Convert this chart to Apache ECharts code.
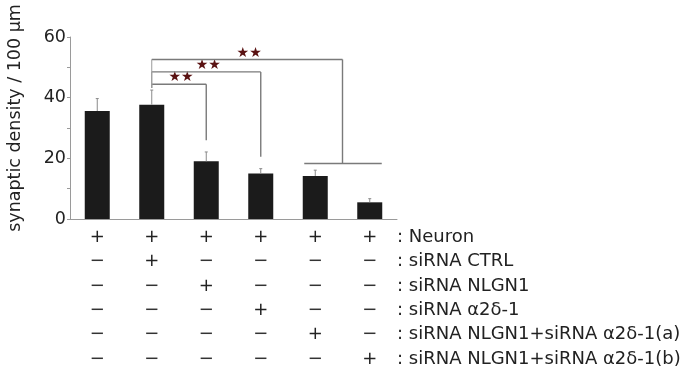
<!DOCTYPE html>
<html><head><meta charset="utf-8">
<script src="https://cdn.jsdelivr.net/npm/echarts@6/dist/echarts.min.js"></script>
<style>html,body{margin:0;padding:0;background:#fff}#c{width:693px;height:380px}</style>
</head><body><div id="c"></div>
<script>
// ---- data ----
const categories = ['G1', 'G2', 'G3', 'G4', 'G5', 'G6'];
const densityMean = [35.6, 37.7, 19.0, 15.0, 14.2, 5.5];
const densityErr = [4.1, 4.8, 3.1, 1.6, 1.9, 1.2];
const yTickValues = [0, 20, 40, 60];
const yTitle = 'synaptic density / 100 μm';
const conditionLabels = [': Neuron', ': siRNA CTRL', ': siRNA NLGN1', ': siRNA α2δ-1',
  ': siRNA NLGN1+siRNA α2δ-1(a)', ': siRNA NLGN1+siRNA α2δ-1(b)'];
const conditionRows = [
  ['+', '+', '+', '+', '+', '+'],
  ['−', '+', '−', '−', '−', '−'],
  ['−', '−', '+', '−', '−', '−'],
  ['−', '−', '−', '+', '−', '−'],
  ['−', '−', '−', '−', '+', '−'],
  ['−', '−', '−', '−', '−', '+']
];
const bracketFrom = [1, 1, 1];
const bracketTo = [2, 3, 4.5];
const bracketTop = [44.4, 48.5, 52.6];
const bracketDrop = [26.0, 20.5, 18.3];
const bracketLabel = ['**', '**', '**'];
const groupFrom = [4];
const groupTo = [5];
const groupLevel = [18.3];

// ---- chart ----
const FONT = 'DejaVu Sans';
const chart = echarts.init(document.getElementById('c'), null, {renderer: 'canvas'});

function xOf(api, v) {
  const lo = Math.floor(v), hi = Math.ceil(v);
  const a = api.coord([lo, 0])[0];
  if (hi === lo) return a;
  const b = api.coord([hi, 0])[0];
  return a + (b - a) * (v - lo);
}

const lineStyle = {stroke: '#7a7a7a', lineWidth: 1.4};

const tableData = [];
conditionRows.forEach((row, r) => row.forEach((s, c) => tableData.push([c, r, s])));

const option = {
  animation: false,
  backgroundColor: '#fff',
  grid: [
    {left: 70, right: 296, top: 37, bottom: 161, containLabel: false},
    {left: 70, right: 296, top: 225, bottom: 9, containLabel: false}
  ],
  xAxis: [
    {type: 'category', gridIndex: 0, data: categories,
      axisLine: {show: true, lineStyle: {color: '#9a9a9a', width: 1}},
      axisTick: {show: false}, axisLabel: {show: false}},
    {type: 'category', gridIndex: 1, data: categories, show: false}
  ],
  yAxis: [
    {type: 'value', gridIndex: 0, min: 0, max: 60, interval: 20,
      name: yTitle, nameLocation: 'middle', nameGap: 46,
      nameTextStyle: {fontFamily: FONT, fontSize: 17.5, color: '#222', padding: [0, 0, 0, 20]},
      axisLine: {show: true, lineStyle: {color: '#9a9a9a', width: 1}},
      axisTick: {show: true, length: 3, lineStyle: {color: '#9a9a9a'}},
      minorTick: {show: true, splitNumber: 2, length: 3, lineStyle: {color: '#9a9a9a'}},
      splitLine: {show: false},
      axisLabel: {fontFamily: FONT, fontSize: 17.5, color: '#222', margin: 4,
        formatter: v => (yTickValues.indexOf(v) >= 0 ? String(v) : '')}},
    {type: 'category', gridIndex: 1, data: conditionLabels, inverse: true, position: 'right',
      axisLine: {show: false}, axisTick: {show: false},
      axisLabel: {fontFamily: FONT, fontSize: 18, color: '#222', margin: 0, align: 'left'}}
  ],
  series: [
    {type: 'bar', xAxisIndex: 0, yAxisIndex: 0, data: densityMean, barWidth: 25,
      itemStyle: {color: '#1b1b1b'}, z: 2},
    {type: 'custom', xAxisIndex: 0, yAxisIndex: 0, z: 3,
      data: densityMean.map((m, i) => [i, m, m + densityErr[i]]),
      renderItem: (params, api) => {
        const p0 = api.coord([api.value(0), api.value(1)]);
        const p1 = api.coord([api.value(0), api.value(2)]);
        return {type: 'group', children: [
          {type: 'line', shape: {x1: p0[0], y1: p0[1], x2: p1[0], y2: p1[1]}, style: {stroke: '#8a8a8a', lineWidth: 1}},
          {type: 'line', shape: {x1: p1[0] - 1.5, y1: p1[1], x2: p1[0] + 1.5, y2: p1[1]}, style: {stroke: '#8a8a8a', lineWidth: 1}}
        ]};
      }},
    {type: 'custom', xAxisIndex: 0, yAxisIndex: 0, z: 4,
      data: bracketFrom.map((f, i) => [f, bracketTo[i], bracketTop[i], bracketDrop[i], i]),
      renderItem: (params, api) => {
        const i = api.value(4);
        const x1 = xOf(api, api.value(0));
        const x2 = xOf(api, api.value(1));
        const yT = api.coord([0, api.value(2)])[1];
        const yD = api.coord([0, api.value(3)])[1];
        const yL = api.coord([0, bracketTop[0] - 1.2])[1];
        return {type: 'group', children: [
          {type: 'line', shape: {x1: x1, y1: yT, x2: x2, y2: yT}, style: lineStyle},
          {type: 'line', shape: {x1: x2, y1: yT, x2: x2, y2: yD}, style: lineStyle},
          {type: 'line', shape: {x1: x1, y1: yT, x2: x1, y2: yL}, style: {stroke: '#9a9a9a', lineWidth: 1}},
          {type: 'text', x: (x1 + x2) / 2 + 2, y: yT + 0.5,
            style: {text: bracketLabel[i].replace(/\*/g, '★'), fill: '#5a1212', font: 'bold 14px ' + FONT,
              align: 'center', verticalAlign: 'bottom'}}
        ]};
      }},
    {type: 'custom', xAxisIndex: 0, yAxisIndex: 0, z: 4,
      data: groupFrom.map((f, i) => [f, groupTo[i], groupLevel[i]]),
      renderItem: (params, api) => {
        const x1 = api.coord([api.value(0), 0])[0] - 11;
        const x2 = api.coord([api.value(1), 0])[0] + 12;
        const y = api.coord([0, api.value(2)])[1];
        return {type: 'line', shape: {x1: x1, y1: y, x2: x2, y2: y}, style: lineStyle};
      }},
    {type: 'custom', xAxisIndex: 1, yAxisIndex: 1,
      data: tableData,
      renderItem: (params, api) => {
        const p = api.coord([api.value(0), api.value(1)]);
        const s = tableData[params.dataIndex][2];
        return {type: 'text', x: p[0], y: p[1],
          style: {text: s, fill: s === '+' ? '#222' : '#333', font: '18px ' + FONT, align: 'center', verticalAlign: 'middle'}};
      }}
  ]
};
chart.setOption(option);
</script>
</body></html>
